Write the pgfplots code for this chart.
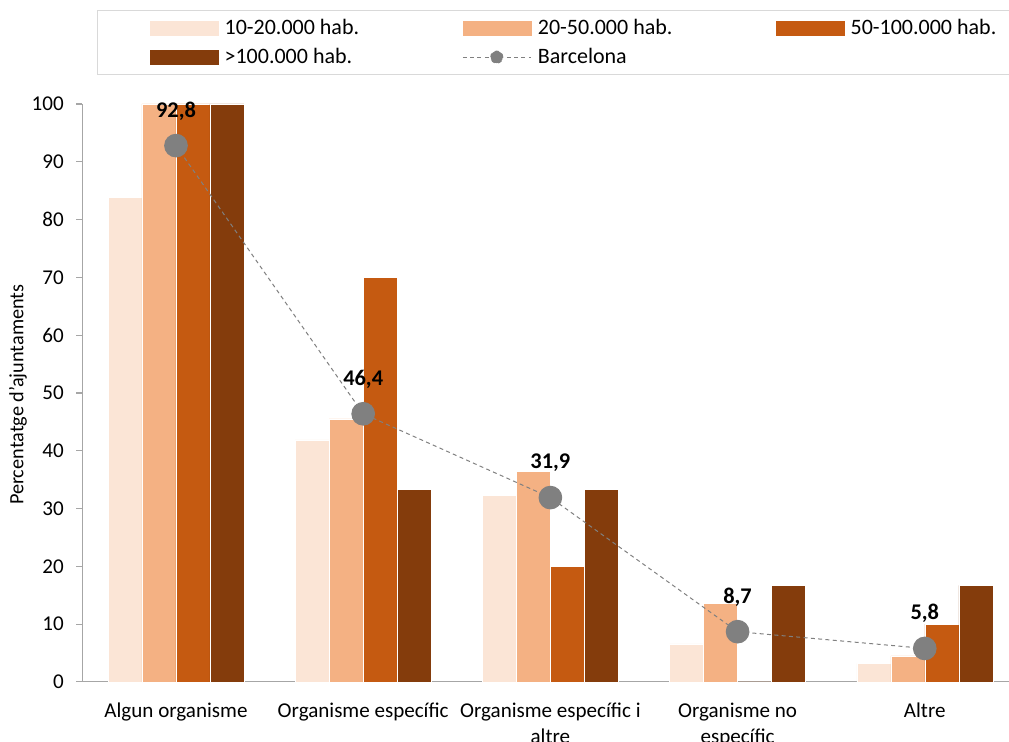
\documentclass[border=0pt]{standalone}
\usepackage{fontspec}
\setmainfont{Carlito}
\usepackage{pgfplots}
\pgfplotsset{compat=1.18}
\definecolor{cA}{HTML}{FBE5D6}
\definecolor{cB}{HTML}{F4B183}
\definecolor{cC}{HTML}{C55A11}
\definecolor{cD}{HTML}{843C0C}
\definecolor{barc}{HTML}{808080}
\definecolor{axgray}{HTML}{A6A6A6}
\newcommand\fs{\fontsize{15.8pt}{19.5pt}\selectfont}
\newcommand\lbox[1]{\makebox[170pt][l]{#1}}
\begin{document}
\begin{tikzpicture}
\begin{axis}[
  at={(0,0)}, anchor=south west,
  scale only axis, width=695pt, height=433.5pt,
  xmin=-0.5, xmax=4.45, ymin=0, ymax=100,
  axis x line*=bottom, axis y line*=left,
  axis line style={axgray, line width=0.8pt},
  xtick={0,1,2,3,4},
  xticklabels={Algun organisme, Organisme específic, {Organisme específic i\\altre}, {Organisme no\\específic}, Altre},
  xticklabel style={font=\fs, align=center, yshift=-8pt},
  x tick style={draw=none},
  ytick={0,10,...,100},
  yticklabel style={font=\fs, xshift=-6pt},
  y tick style={axgray, line width=0.8pt},
  tick align=outside, major tick length=4.5pt,
  /pgf/number format/assume math mode=true,
  ylabel={Percentatge d'ajuntaments},
  ylabel style={font=\fontsize{15.2pt}{17pt}\selectfont, at={(axis description cs:-0.0695,0.497)}, anchor=center},
  legend style={at={(axis description cs:0.0158,1.1626)}, anchor=north west,
    draw=black!15, line width=0.8pt, font=\fontsize{16.5pt}{19.5pt}\selectfont, legend columns=3,
    inner xsep=39pt, inner ysep=4.5pt, row sep=5pt,
    /tikz/every odd column/.append style={column sep=3pt},
    /tikz/every even column/.append style={column sep=6.25pt}},
  legend cell align=left,
]
\addplot[ybar, bar width=0.1816, bar shift=-0.2724, fill=cA, draw=white, line width=0.3pt,
  legend image code/.code={\fill[cA] (0pt,-5.25pt) rectangle (51pt,5.25pt);}]
  coordinates {(0,83.9) (1,41.9) (2,32.3) (3,6.6) (4,3.2)};
\addlegendentry{\lbox{10-20.000 hab.}}
\addplot[ybar, bar width=0.1816, bar shift=-0.0908, fill=cB, draw=white, line width=0.3pt,
  legend image code/.code={\fill[cB] (0pt,-5.25pt) rectangle (51pt,5.25pt);}]
  coordinates {(0,100) (1,45.5) (2,36.4) (3,13.6) (4,4.5)};
\addlegendentry{\lbox{20-50.000 hab.}}
\addplot[ybar, bar width=0.1816, bar shift=0.0908, fill=cC, draw=white, line width=0.3pt,
  legend image code/.code={\fill[cC] (0pt,-5.25pt) rectangle (51pt,5.25pt);}]
  coordinates {(0,100) (1,70) (2,20) (3,0) (4,10)};
\addlegendentry{\lbox{50-100.000 hab.}}
\addplot[ybar, bar width=0.1816, bar shift=0.2724, fill=cD, draw=white, line width=0.3pt,
  legend image code/.code={\fill[cD] (0pt,-5.25pt) rectangle (51pt,5.25pt);}]
  coordinates {(0,100) (1,33.3) (2,33.3) (3,16.7) (4,16.7)};
\addlegendentry{\lbox{>100.000 hab.}}
\addplot[barc, line width=0.75pt, dash pattern=on 3pt off 2.5pt,
  mark=*, mark size=8.5pt, mark options={solid, fill=barc, draw=none},
  legend image code/.code={\draw[barc, line width=0.75pt, dash pattern=on 3pt off 2.5pt] (0pt,0pt) -- (51pt,0pt); \fill[barc] (25.5pt,0pt) circle (4.5pt);},
  nodes near coords={\pgfmathprintnumber[fixed,precision=1,fixed zerofill,use comma,assume math mode=true]{\pgfplotspointmeta}},
  every node near coord/.append style={font=\fontsize{16.8pt}{19pt}\selectfont\bfseries, text=black, anchor=center, yshift=26pt}]
  coordinates {(0,92.8) (1,46.4) (2,31.9) (3,8.7) (4,5.8)};
\addlegendentry{\lbox{Barcelona}}
\end{axis}
\pgfresetboundingbox
\path (-61.8pt,-45pt) rectangle (695pt,511.5pt);
\end{tikzpicture}
\end{document}
